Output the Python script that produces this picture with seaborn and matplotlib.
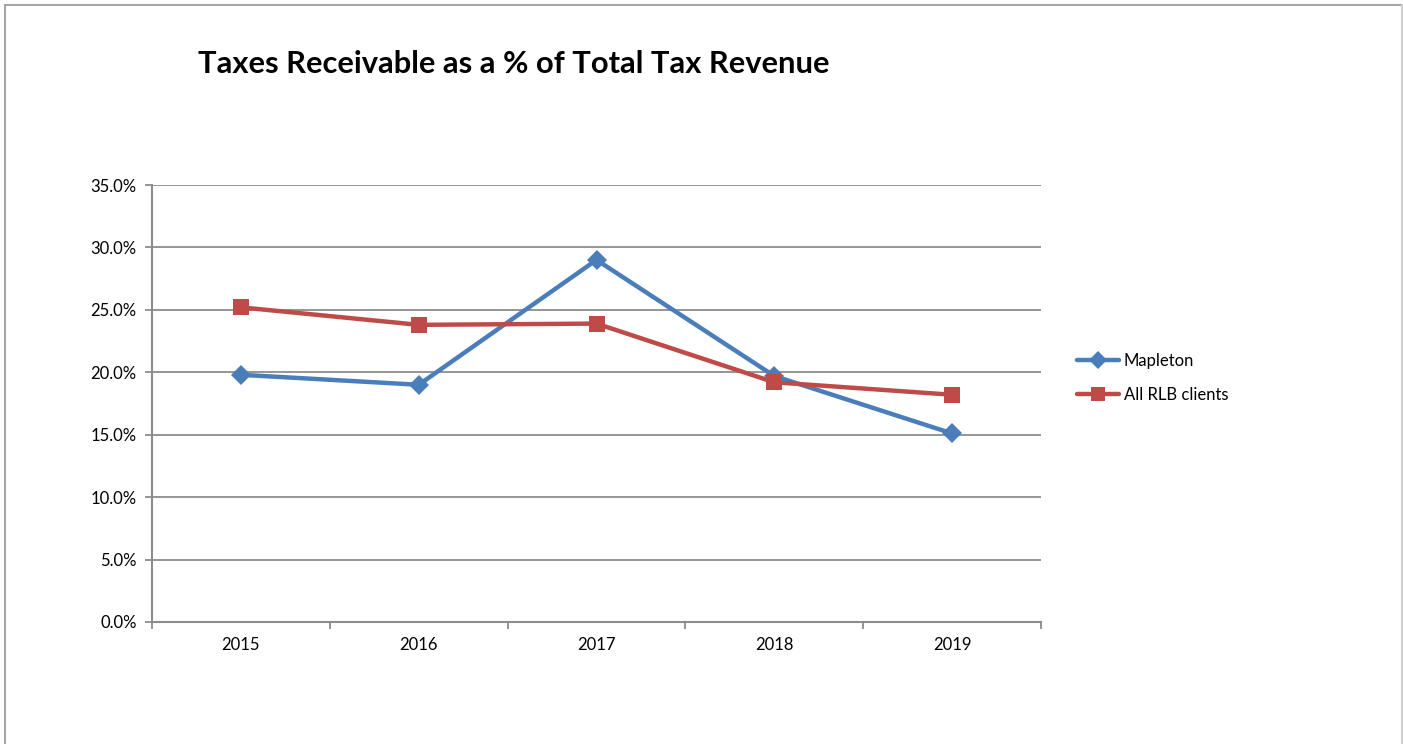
import matplotlib
matplotlib.use("Agg")
import matplotlib.pyplot as plt
from matplotlib.lines import Line2D
import seaborn as sns
import pandas as pd
import numpy as np

# Share of total tax revenue still receivable at year end (%)
years = ["2015", "2016", "2017", "2018", "2019"]
mapleton = [19.8, 19.0, 29.0, 19.7, 15.1]
all_rlb = [25.2, 23.8, 23.9, 19.2, 18.2]
series_names = ["Mapleton", "All RLB clients"]
y_ticks = [0, 5, 10, 15, 20, 25, 30, 35]

df = pd.DataFrame({
    "year": years * 2,
    "pct": mapleton + all_rlb,
    "series": [series_names[0]] * len(years) + [series_names[1]] * len(years),
})
df["pos"] = df["year"].map({y: i for i, y in enumerate(years)})

sns.set_theme(style="white")
plt.rcParams["font.family"] = ["Lato", "DejaVu Sans"]
plt.rcParams["text.color"] = "black"
plt.rcParams["xtick.color"] = "black"
plt.rcParams["ytick.color"] = "black"

blue = "#4A7EBB"
red = "#BE4B48"
grid_c = "#8C8C8C"

fig = plt.figure(figsize=(14.03, 7.44), dpi=100)
ax = fig.add_axes([152 / 1403, 1 - 622 / 744, (1041 - 152) / 1403, (622 - 185) / 744])

sns.lineplot(
    data=df, x="pos", y="pct", hue="series", style="series",
    palette=[blue, red], markers=["D", "s"], dashes=False,
    linewidth=3.2, markersize=10, markeredgewidth=0, ax=ax, legend=False,
    sort=False,
)
# squares a touch larger than diamonds
for ln in ax.lines:
    if ln.get_marker() == "s":
        ln.set_markersize(11)

ax.set_xlim(-0.5, len(years) - 0.5)
ax.set_ylim(0, 35)
ax.set_yticks(y_ticks)
ax.set_yticklabels([f"{v:.1f}%" for v in y_ticks], fontsize=12)
ax.yaxis.grid(True, color=grid_c, linewidth=1.3)
ax.set_axisbelow(True)

# category boundaries carry the tick marks, labels sit at category centres
ax.set_xticks(np.arange(-0.5, len(years), 1.0))
ax.set_xticklabels([])
ax.set_xticks(np.arange(len(years)), minor=True)
ax.set_xticklabels(years, minor=True, fontsize=12)
ax.tick_params(axis="x", which="major", length=5, width=1.3, color=grid_c, direction="out", bottom=True)
ax.tick_params(axis="x", which="minor", length=0, pad=11)
ax.tick_params(axis="y", length=5, width=1.3, color=grid_c, direction="out", left=True, pad=6)
ax.set_xlabel("")
ax.set_ylabel("")

for side in ["top", "right"]:
    ax.spines[side].set_visible(False)
for side in ["left", "bottom"]:
    ax.spines[side].set_color(grid_c)
    ax.spines[side].set_linewidth(1.5)

fig.text(198 / 1403, 1 - 64 / 744, "Taxes Receivable as a % of Total Tax Revenue",
         fontsize=22.2, fontweight="bold", va="center", ha="left", color="black")

handles = [
    Line2D([], [], color=blue, marker="D", lw=3.2, ms=9, mew=0),
    Line2D([], [], color=red, marker="s", lw=3.2, ms=10, mew=0),
]
fig.legend(handles, series_names, loc="center left",
           bbox_to_anchor=(1062 / 1403, 1 - 378 / 744), frameon=False,
           fontsize=12, handlelength=2.5, handletextpad=0.3, labelspacing=1.05)

# outer chart frame
frame_c = "#A6A6A6"
fig.add_artist(Line2D([5 / 1403, 5 / 1403], [0, 1 - 5 / 744], color=frame_c, lw=1.5, transform=fig.transFigure))
fig.add_artist(Line2D([5 / 1403, 1402 / 1403], [1 - 5 / 744, 1 - 5 / 744], color=frame_c, lw=1.5, transform=fig.transFigure))
fig.add_artist(Line2D([1402 / 1403, 1402 / 1403], [0, 1 - 5 / 744], color="#D0D0D0", lw=1.5, transform=fig.transFigure))

fig.savefig("out.png", dpi=100)
